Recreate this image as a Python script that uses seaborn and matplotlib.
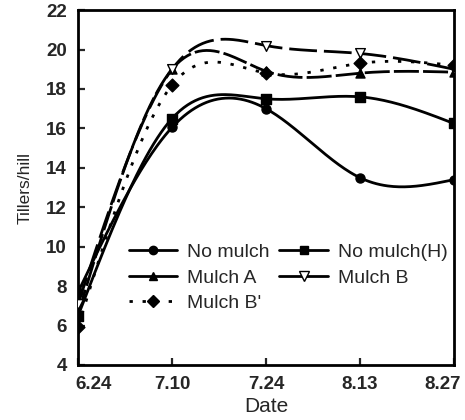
import numpy as np
import pandas as pd
import matplotlib
matplotlib.use("Agg")
import matplotlib.pyplot as plt
import matplotlib.transforms as mtransforms
from matplotlib.lines import Line2D
import seaborn as sns

# ---- data ----
dates = ["6.24", "7.10", "7.24", "8.13", "8.27"]
no_mulch = [7.7, 16.05, 17.0, 13.5, 13.4]
no_mulch_h = [6.5, 16.5, 17.5, 17.6, 16.25]
mulch_a = [6.6, 19.0, 18.9, 18.8, 18.85]
mulch_b = [7.1, 19.0, 20.2, 19.8, 19.0]
mulch_b2 = [5.95, 18.2, 18.8, 19.3, 19.2]
series_names = ["No mulch", "No mulch(H)", "Mulch A", "Mulch B", "Mulch B'"]
y_ticks = [4, 6, 8, 10, 12, 14, 16, 18, 20, 22]

series_values = [no_mulch, no_mulch_h, mulch_a, mulch_b, mulch_b2]


def natural_spline(x, y, n=200):
    x = np.asarray(x, float)
    y = np.asarray(y, float)
    k = len(x)
    h = np.diff(x)
    A = np.zeros((k, k))
    r = np.zeros(k)
    A[0, 0] = A[-1, -1] = 1
    for i in range(1, k - 1):
        A[i, i - 1] = h[i - 1]
        A[i, i] = 2 * (h[i - 1] + h[i])
        A[i, i + 1] = h[i]
        r[i] = 6 * ((y[i + 1] - y[i]) / h[i] - (y[i] - y[i - 1]) / h[i - 1])
    M = np.linalg.solve(A, r)
    xs = np.linspace(x[0], x[-1], n)
    idx = np.clip(np.searchsorted(x, xs) - 1, 0, k - 2)
    x0, x1 = x[idx], x[idx + 1]
    hh = x1 - x0
    a = (x1 - xs) / hh
    b = (xs - x0) / hh
    ys = (a * y[idx] + b * y[idx + 1]
          + ((a ** 3 - a) * M[idx] + (b ** 3 - b) * M[idx + 1]) * hh ** 2 / 6)
    return xs, ys


sns.set_theme(style="ticks")
plt.rcParams["font.family"] = ["Liberation Sans", "DejaVu Sans"]

fig = plt.figure(figsize=(4.65, 4.2), dpi=100)
ax = fig.add_axes([0.168, 0.131, 0.808, 0.845])

pos = np.arange(len(dates))
markers = ["o", "s", "^", "v", "D"]
msizes = [6.5, 6.5, 6.5, 7, 6.5]
mfaces = ["black", "black", "black", "white", "black"]
dashes = [None, None, (9, 1.5), (10, 2.5), (1.2, 3.5)]
legend_dashes = [None, None, None, None, (1.2, 3.5)]

handles = []
for name, vals, mk, ms, mf, ds, lds in zip(series_names, series_values, markers,
                                            msizes, mfaces, dashes, legend_dashes):
    xs, ys = natural_spline(pos, vals)
    curve = pd.DataFrame({"x": xs, "y": ys})
    sns.lineplot(data=curve, x="x", y="y", ax=ax, color="black", lw=2.0,
                 sort=False, estimator=None)
    line = ax.get_lines()[-1]
    if ds is not None:
        line.set_dashes(ds)
    pts = pd.DataFrame({"x": pos, "y": vals})
    sns.scatterplot(data=pts, x="x", y="y", ax=ax, marker=mk, s=ms ** 2,
                    color=mf, edgecolor="black", linewidth=1.0, zorder=5)
    h = Line2D([], [], color="black", lw=2.0, marker=mk, markersize=ms - 0.5,
               markerfacecolor=mf, markeredgecolor="black")
    if lds is not None:
        h.set_dashes(lds)
    handles.append(h)

ax.set_xlim(0, len(dates) - 1)
ax.set_ylim(4, 22)
ax.set_yticks(y_ticks)
ax.set_xticks(pos)
ax.set_xticklabels(dates)
ax.set_xlabel("Date", fontsize=15, labelpad=3)
ax.set_ylabel("Tillers/hill", fontsize=12.5, labelpad=10)

ax.tick_params(direction="in", length=5, width=1.6, labelsize=13.5, pad=8,
               top=False, right=False)
for lab in ax.get_xticklabels() + ax.get_yticklabels():
    lab.set_fontweight("bold")

xl = ax.get_xticklabels()
xl[0].set_transform(xl[0].get_transform() +
                    mtransforms.ScaledTranslation(15 / 100, 0, fig.dpi_scale_trans))
xl[-1].set_transform(xl[-1].get_transform() +
                     mtransforms.ScaledTranslation(-11 / 100, 0, fig.dpi_scale_trans))

for s in ax.spines.values():
    s.set_linewidth(2.0)
    s.set_color("black")

# row-wise legend order: (No mulch, No mulch(H)), (Mulch A, Mulch B), (Mulch B')
order = [0, 2, 4, 1, 3]
ax.legend([handles[i] for i in order], [series_names[i] for i in order],
          ncol=2, frameon=False, loc="upper left",
          bbox_to_anchor=(0.135, 0.342), fontsize=14, handlelength=2.5,
          handletextpad=0.5, columnspacing=0.5, labelspacing=0.4,
          borderaxespad=0, borderpad=0)

fig.savefig("out.png", dpi=100)
